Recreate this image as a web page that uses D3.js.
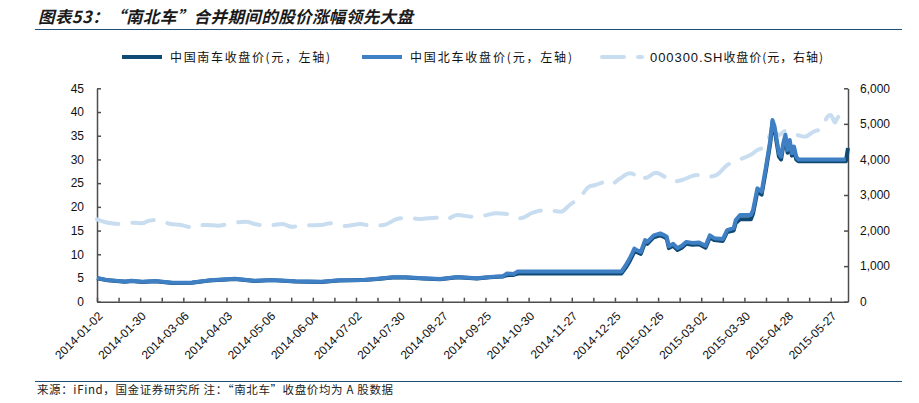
<!DOCTYPE html>
<html><head><meta charset="utf-8">
<script src="https://cdn.jsdelivr.net/npm/d3@7"></script>
<style>
body{margin:0;background:#fff}
svg{display:block;font-family:"Liberation Sans",Arial,sans-serif}
.cjk{font-family:"Noto Sans CJK SC","Noto Sans",sans-serif}
</style>
</head><body>
<svg id="c" width="919" height="403"></svg>
<script>
// ---------- data ----------
const dayCount = 349; // trading days 2014-01-02 ... 2015-06-08
const xTickLabels = ["2014-01-02","2014-01-30","2014-03-06","2014-04-03","2014-05-06","2014-06-04",
  "2014-07-02","2014-07-30","2014-08-27","2014-09-25","2014-10-30","2014-11-27","2014-12-25",
  "2015-01-26","2015-03-02","2015-03-30","2015-04-28","2015-05-27"];
const leftTicks = [0,5,10,15,20,25,30,35,40,45];
const rightTicks = [0,1000,2000,3000,4000,5000,6000];
const seriesNames = ["中国南车收盘价(元，左轴)","中国北车收盘价(元，左轴)","000300.SH收盘价(元，右轴)"];

// [trading-day index, close]
const nanche = [[0,4.95],[5,4.5],[13,4.2],[16,4.35],[21,4.15],[27,4.3],[35,3.95],[44,4.0],[52,4.45],[64,4.8],
  [73,4.35],[81,4.55],[92,4.25],[104,4.15],[112,4.45],[123,4.55],[130,4.8],[137,5.1],[143,5.1],[151,4.9],
  [159,4.75],[167,5.15],[176,4.9],[182,5.15],[188,5.3],[190,5.6],[193,5.65],[195,5.95],[243,5.95],[244,6.55],
  [245,7.2],[246,7.9],[247,8.7],[248,9.6],[249,10.55],[250,10.5],[252,10.1],[254,12.6],[255,12.2],[258,13.6],
  [261,14.0],[263,13.6],[264,13.3],[265,11.3],[267,11.8],[269,10.9],[271,11.4],[273,12.2],[276,12.0],[279,12.1],
  [282,11.4],[284,13.6],[286,13.0],[290,12.8],[292,14.7],[295,15.0],[296,16.6],[298,17.4],[303,17.4],[304,18.6],
  [306,23.2],[308,22.6],[310,27.8],[312,33.5],[313,37.8],[314,36.2],[316,30.6],[317,30.0],[318,32.8],[319,34.6],
  [320,31.4],[321,33.5],[322,30.8],[323,32.1],[324,30.0],[325,29.6],[347,29.6],[348,32.4]];
const beiche = [[0,5.0],[5,4.55],[13,4.25],[16,4.4],[21,4.2],[27,4.35],[35,4.0],[44,4.05],[52,4.5],[64,4.85],
  [73,4.4],[81,4.6],[92,4.3],[104,4.2],[112,4.5],[123,4.6],[130,4.85],[137,5.15],[143,5.15],[151,4.95],
  [159,4.8],[167,5.2],[176,4.95],[182,5.2],[188,5.35],[190,5.95],[193,5.85],[195,6.35],[243,6.35],[244,7.0],
  [245,7.7],[246,8.45],[247,9.3],[248,10.2],[249,11.2],[250,10.9],[252,10.5],[254,13.0],[255,12.6],[258,14.0],
  [261,14.4],[263,14.0],[264,13.7],[265,11.7],[267,12.2],[269,11.3],[271,11.8],[273,12.6],[276,12.4],[279,12.5],
  [282,11.8],[284,14.0],[286,13.4],[290,13.2],[292,15.1],[295,15.5],[296,17.2],[298,18.3],[303,18.3],[304,19.3],
  [306,23.9],[308,23.2],[310,28.5],[312,34.1],[313,38.3],[314,36.9],[316,31.3],[317,30.6],[318,33.4],[319,35.2],
  [320,32.0],[321,34.1],[322,31.3],[323,32.7],[324,30.6],[325,30.0],[347,30.0]];
const csi300 = [[0,2317],[5,2221],[11,2185],[17,2221],[21,2204],[24,2278],[28,2297],[34,2185],[39,2157],[44,2092],
  [45,2128],[51,2157],[56,2137],[62,2204],[69,2250],[73,2185],[79,2137],[86,2185],[90,2109],[97,2148],
  [104,2157],[108,2204],[115,2128],[122,2185],[127,2137],[133,2157],[139,2325],[144,2362],[150,2325],[157,2362],
  [161,2297],[167,2437],[174,2390],[179,2418],[185,2485],[191,2457],[196,2345],[202,2502],[208,2578],[215,2530],
  [219,2719],[224,2952],[228,3233],[231,3281],[234,3350],[237,3402],[239,3329],[242,3450],[247,3610],[251,3534],
  [253,3590],[254,3480],[259,3627],[263,3514],[266,3374],[272,3441],[275,3514],[278,3562],[281,3497],[287,3562],
  [292,3840],[296,3960],[301,4077],[304,4172],[306,4265],[308,4313],[310,4430],[313,4800],[316,4687],[319,4800],
  [324,4700],[328,4640],[332,4780],[336,4875],[338,5156],[340,5249],[342,5040],[343,5156],[345,5249],[348,5370]];

// ---------- drawing ----------
const svg = d3.select("#c");
const colors = {nan:"#0f4a74", bei:"#3f7fc3", csi:"#c9ddf0", axis:"#4d4d4d", rule:"#1f4e79"};

const x = d3.scaleLinear().domain([0, dayCount - 1]).range([97, 848]);
const yL = d3.scaleLinear().domain([0, 45]).range([301.7, 88.3]);
const yR = d3.scaleLinear().domain([0, 6000]).range([301.7, 88.3]);

// title + rules
svg.append("text").attr("class","cjk").attr("x",38).attr("y",22.5)
  .attr("font-size",16.5).attr("font-weight","bold").attr("font-style","italic").attr("fill","#1a1a1a")
  .attr("textLength",375).attr("lengthAdjust","spacing")
  .text("图表53：“南北车”合并期间的股价涨幅领先大盘");
svg.append("line").attr("x1",35).attr("x2",902).attr("y1",29.5).attr("y2",29.5)
  .attr("stroke",colors.rule).attr("stroke-width",1.2);
svg.append("line").attr("x1",35).attr("x2",902).attr("y1",381.5).attr("y2",381.5)
  .attr("stroke",colors.rule).attr("stroke-width",1.2);
svg.append("text").attr("class","cjk").attr("x",37).attr("y",394)
  .attr("font-size",11.5).attr("fill","#222")
  .attr("textLength",356).attr("lengthAdjust","spacing")
  .text("来源：iFind，国金证券研究所 注：“南北车”收盘价均为 A 股数据");

// axes
const axL = svg.append("g").attr("transform",`translate(${x.range()[0]},0)`)
  .call(d3.axisLeft(yL).tickValues(leftTicks).tickSizeInner(-4).tickSizeOuter(0).tickPadding(13));
const axR = svg.append("g").attr("transform",`translate(${x.range()[1]},0)`)
  .call(d3.axisRight(yR).tickValues(rightTicks).tickSizeInner(-4).tickSizeOuter(0).tickPadding(12)
    .tickFormat(d3.format(",")));
const xTicks = d3.range(0, dayCount, 10);
const axB = svg.append("g").attr("transform",`translate(0,${yL.range()[0]})`)
  .call(d3.axisBottom(x).tickValues(xTicks).tickSizeInner(-4).tickSizeOuter(0)
    .tickFormat(d => d % 20 === 0 ? xTickLabels[d / 20] : ""));
axB.selectAll("text").attr("y",0).attr("dy",0).attr("x",0)
  .attr("transform","translate(6,15) rotate(-45)").style("text-anchor","end");
[axL, axR, axB].forEach(g => {
  g.selectAll("path,line").attr("stroke",colors.axis).attr("stroke-width",1.5);
  g.selectAll("text").attr("font-size",12).attr("fill","#111")
    .attr("font-family","'Liberation Sans',Arial,sans-serif");
});

// lines
const lineL = d3.line().x(d => x(d[0])).y(d => yL(d[1]));
const lineR = d3.line().x(d => x(d[0])).y(d => yR(d[1])).curve(d3.curveMonotoneX);
svg.append("path").datum(csi300).attr("d",lineR).attr("fill","none")
  .attr("stroke",colors.csi).attr("stroke-width",4).attr("stroke-dasharray","22,14")
  .attr("stroke-linecap","round");
svg.append("path").datum(nanche).attr("d",lineL).attr("fill","none")
  .attr("stroke",colors.nan).attr("stroke-width",4).attr("stroke-linejoin","round");
svg.append("path").datum(beiche).attr("d",lineL).attr("fill","none")
  .attr("stroke",colors.bei).attr("stroke-width",4).attr("stroke-linejoin","round");

// legend
const legendItems = [
  {x:122, color:colors.nan, dash:null, label:seriesNames[0], w:160},
  {x:362, color:colors.bei, dash:null, label:seriesNames[1], w:162},
  {x:602, color:colors.csi, dash:"22,14", label:seriesNames[2], w:173}
];
legendItems.forEach(it => {
  svg.append("line").attr("x1",it.x).attr("x2",it.x + 40).attr("y1",57).attr("y2",57)
    .attr("stroke",it.color).attr("stroke-width",4)
    .attr("stroke-dasharray",it.dash).attr("stroke-linecap",it.dash ? "round" : "butt");
  const t = svg.append("text").attr("x",it.x + 48).attr("y",61.5).attr("font-size",12).attr("fill","#111")
    .attr("textLength",it.w).attr("lengthAdjust","spacing");
  const m = it.label.match(/^([0-9A-Z.]*)(.*)$/);
  if (m[1]) t.append("tspan").attr("font-family","'Liberation Sans',Arial,sans-serif").attr("font-size",13).text(m[1]);
  t.append("tspan").attr("class","cjk").text(m[2]);
});
</script>
</body></html>
